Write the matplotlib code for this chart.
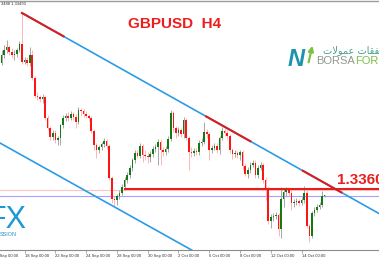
import numpy as np
import matplotlib
matplotlib.use("Agg")
import matplotlib.pyplot as plt

# GBPUSD H4 candles
opens = [1.3612, 1.3628, 1.3638, 1.3644, 1.3634, 1.3628, 1.3630, 1.3638, 1.3650, 1.3614,
         1.3618, 1.3612, 1.3628, 1.3582, 1.3546, 1.3544, 1.3540, 1.3544, 1.3502, 1.3482,
         1.3464, 1.3472, 1.3458, 1.3462, 1.3488, 1.3502, 1.3506, 1.3502, 1.3510, 1.3504,
         1.3494, 1.3518, 1.3516, 1.3510, 1.3506, 1.3502, 1.3476, 1.3448, 1.3438, 1.3444,
         1.3450, 1.3456, 1.3446, 1.3382, 1.3340, 1.3338, 1.3346, 1.3352, 1.3364, 1.3378,
         1.3388, 1.3402, 1.3418, 1.3432, 1.3426, 1.3446, 1.3428, 1.3426, 1.3424, 1.3430,
         1.3440, 1.3444, 1.3454, 1.3438, 1.3434, 1.3440, 1.3460, 1.3512, 1.3482, 1.3472,
         1.3478, 1.3470, 1.3498, 1.3462, 1.3434, 1.3432, 1.3436, 1.3434, 1.3452, 1.3454,
         1.3474, 1.3470, 1.3438, 1.3442, 1.3446, 1.3438, 1.3462, 1.3476, 1.3472, 1.3466,
         1.3438, 1.3430, 1.3432, 1.3428, 1.3434, 1.3406, 1.3390, 1.3398, 1.3408, 1.3412,
         1.3388, 1.3402, 1.3408, 1.3378, 1.3360, 1.3296, 1.3304, 1.3306, 1.3308, 1.3280,
         1.3340, 1.3354, 1.3358, 1.3352, 1.3332, 1.3334, 1.3336, 1.3332, 1.3338, 1.3352,
         1.3286, 1.3266, 1.3312, 1.3318, 1.3324, 1.3328, 1.3346]
highs = [1.3638, 1.3648, 1.3658, 1.3648, 1.3642, 1.3638, 1.3642, 1.3656, 1.3712, 1.3624,
         1.3624, 1.3644, 1.3638, 1.3586, 1.3554, 1.3548, 1.3550, 1.3546, 1.3508, 1.3486,
         1.3478, 1.3478, 1.3466, 1.3490, 1.3508, 1.3512, 1.3514, 1.3516, 1.3514, 1.3510,
         1.3524, 1.3522, 1.3520, 1.3516, 1.3510, 1.3506, 1.3480, 1.3452, 1.3448, 1.3454,
         1.3462, 1.3460, 1.3450, 1.3386, 1.3346, 1.3350, 1.3358, 1.3370, 1.3384, 1.3394,
         1.3408, 1.3422, 1.3438, 1.3438, 1.3452, 1.3450, 1.3438, 1.3434, 1.3436, 1.3446,
         1.3450, 1.3460, 1.3460, 1.3444, 1.3446, 1.3466, 1.3518, 1.3516, 1.3486, 1.3484,
         1.3482, 1.3504, 1.3502, 1.3466, 1.3444, 1.3442, 1.3442, 1.3458, 1.3462, 1.3494,
         1.3480, 1.3474, 1.3448, 1.3452, 1.3452, 1.3466, 1.3484, 1.3482, 1.3478, 1.3470,
         1.3442, 1.3438, 1.3436, 1.3438, 1.3438, 1.3412, 1.3404, 1.3414, 1.3418, 1.3418,
         1.3408, 1.3414, 1.3412, 1.3384, 1.3366, 1.3310, 1.3312, 1.3314, 1.3312, 1.3364,
         1.3362, 1.3364, 1.3362, 1.3358, 1.3340, 1.3342, 1.3340, 1.3344, 1.3366, 1.3358,
         1.3290, 1.3316, 1.3324, 1.3330, 1.3334, 1.3356, 1.3348]
lows = [1.3608, 1.3622, 1.3632, 1.3628, 1.3622, 1.3618, 1.3624, 1.3634, 1.3610, 1.3610,
        1.3606, 1.3606, 1.3578, 1.3542, 1.3538, 1.3534, 1.3532, 1.3498, 1.3478, 1.3458,
        1.3458, 1.3452, 1.3448, 1.3448, 1.3482, 1.3496, 1.3496, 1.3498, 1.3498, 1.3482,
        1.3490, 1.3506, 1.3504, 1.3502, 1.3496, 1.3472, 1.3438, 1.3422, 1.3432, 1.3438,
        1.3444, 1.3440, 1.3378, 1.3332, 1.3326, 1.3328, 1.3340, 1.3348, 1.3358, 1.3372,
        1.3382, 1.3396, 1.3412, 1.3422, 1.3422, 1.3414, 1.3418, 1.3412, 1.3414, 1.3424,
        1.3434, 1.3408, 1.3408, 1.3426, 1.3428, 1.3434, 1.3456, 1.3474, 1.3462, 1.3466,
        1.3464, 1.3462, 1.3458, 1.3398, 1.3424, 1.3426, 1.3428, 1.3428, 1.3446, 1.3450,
        1.3462, 1.3418, 1.3432, 1.3438, 1.3432, 1.3430, 1.3458, 1.3466, 1.3460, 1.3432,
        1.3420, 1.3424, 1.3422, 1.3418, 1.3398, 1.3386, 1.3382, 1.3392, 1.3404, 1.3382,
        1.3382, 1.3398, 1.3372, 1.3338, 1.3290, 1.3282, 1.3296, 1.3300, 1.3266, 1.3262,
        1.3324, 1.3346, 1.3346, 1.3318, 1.3324, 1.3328, 1.3326, 1.3328, 1.3332, 1.3282,
        1.3254, 1.3262, 1.3306, 1.3314, 1.3320, 1.3324, 1.3344]
closes = [1.3628, 1.3638, 1.3644, 1.3634, 1.3628, 1.3630, 1.3638, 1.3650, 1.3614, 1.3618,
          1.3612, 1.3628, 1.3582, 1.3546, 1.3544, 1.3540, 1.3544, 1.3502, 1.3482, 1.3464,
          1.3472, 1.3458, 1.3462, 1.3488, 1.3502, 1.3506, 1.3502, 1.3510, 1.3504, 1.3494,
          1.3518, 1.3516, 1.3510, 1.3506, 1.3502, 1.3476, 1.3448, 1.3438, 1.3444, 1.3450,
          1.3456, 1.3446, 1.3382, 1.3340, 1.3338, 1.3346, 1.3352, 1.3364, 1.3378, 1.3388,
          1.3402, 1.3418, 1.3432, 1.3426, 1.3446, 1.3428, 1.3426, 1.3424, 1.3430, 1.3440,
          1.3444, 1.3454, 1.3438, 1.3434, 1.3440, 1.3460, 1.3512, 1.3482, 1.3472, 1.3478,
          1.3470, 1.3498, 1.3462, 1.3434, 1.3432, 1.3436, 1.3434, 1.3452, 1.3454, 1.3474,
          1.3470, 1.3438, 1.3442, 1.3446, 1.3438, 1.3462, 1.3476, 1.3472, 1.3466, 1.3438,
          1.3430, 1.3432, 1.3428, 1.3434, 1.3406, 1.3390, 1.3398, 1.3408, 1.3412, 1.3388,
          1.3402, 1.3408, 1.3378, 1.3360, 1.3296, 1.3304, 1.3306, 1.3308, 1.3280, 1.3340,
          1.3354, 1.3358, 1.3352, 1.3332, 1.3334, 1.3336, 1.3332, 1.3338, 1.3352, 1.3286,
          1.3266, 1.3312, 1.3318, 1.3324, 1.3328, 1.3346, 1.3346]

# time axis (bar index of each label)
tick_bars = [-3, 9, 21, 33, 45, 57, 69, 81, 93, 105, 117]
tick_labels = ["16 Sep 00:00", "18 Sep 00:00", "22 Sep 00:00", "24 Sep 00:00",
               "28 Sep 00:00", "30 Sep 00:00", "2 Oct 00:00", "6 Oct 00:00",
               "8 Oct 00:00", "12 Oct 00:00", "14 Oct 00:00"]

# trend channel: two anchor points each (bar, price)
upper_line = [(8, 1.3712), (146.8, 1.3312)]
lower_line = [(-0.6, 1.3452), (72.7, 1.3242)]
red_spans = [(8, 24.2), (79.8, 97.0), (117.5, 132.5)]   # red parts on the upper line
level = 1.3360
level_start = 48
bid = 1.3346
pink_level = 1.33585

BLUE = "#2c9be6"
RED = "#e3201e"
XMIN, XMAX = -0.585, 147.17


def line_price(pts, x):
    (x1, y1), (x2, y2) = pts
    return y1 + (y2 - y1) * (np.asarray(x) - x1) / (x2 - x1)


fig = plt.figure(figsize=(3.79, 2.59), dpi=100)
ax = fig.add_axes([0, 9 / 259, 1, 249 / 259])

o = np.array(opens)
h = np.array(highs)
l = np.array(lows)
c = np.array(closes)
x = np.arange(len(c))
up = c >= o

# candles
ax.vlines(x[up], l[up], h[up], color="#9a9a9a", lw=0.6, zorder=2)
ax.vlines(x[~up], l[~up], h[~up], color="#ffaaaa", lw=0.6, zorder=2)
body = np.maximum(np.abs(c - o), 0.00015)
ax.bar(x[up], body[up], bottom=np.minimum(o, c)[up], width=0.62,
       color="#137a13", edgecolor="none", zorder=3)
ax.bar(x[~up], body[~up], bottom=np.minimum(o, c)[~up], width=0.62,
       color="#ff1414", edgecolor="none", zorder=3)

# price lines
ax.axhline(pink_level, color="#ffc4c4", lw=0.8, zorder=1)
ax.axhline(bid, color="#a3a3ff", lw=0.8, zorder=1)
ax.plot([level_start, 160], [level, level], color=RED, lw=1.5, zorder=4)

# channel
ux = np.array([upper_line[0][0], 160])
ax.plot(ux, line_price(upper_line, ux), color=BLUE, lw=1.2, zorder=4)
for a, b in red_spans:
    sx = np.array([a, b])
    ax.plot(sx, line_price(upper_line, sx), color="#d91c1c", lw=1.5, zorder=5)
ax.axline(lower_line[0], lower_line[1], color=BLUE, lw=1.2, zorder=4)

# axes look (MT4 style)
for side in ["left", "right"]:
    ax.spines[side].set_visible(False)
ax.spines["top"].set_color("#9c9c9c")
ax.spines["top"].set_linewidth(1.0)
ax.spines["bottom"].set_color("#8c8c8c")
ax.spines["bottom"].set_linewidth(0.8)
ax.set_yticks([])
visible = [(b, t) for b, t in zip(tick_bars, tick_labels) if b >= XMIN]
ax.set_xticks([b for b, _ in visible])
ax.set_xticklabels([t for _, t in visible], fontsize=3, family="Liberation Sans",
                   color="#333333")
plt.setp(ax.get_xticklabels(), ha="left")
ax.tick_params(axis="x", direction="out", length=2, width=0.5, color="#8c8c8c", pad=0.8)
ax.set_xlim(XMIN, XMAX)
ax.set_ylim(1.3238, 1.3736)
# labels whose tick sits just left of the view are cut by the edge, as in MT4
for b, t in zip(tick_bars, tick_labels):
    if b < XMIN:
        ax.annotate(t, xy=(b, 0), xycoords=ax.get_xaxis_transform(),
                    xytext=(0, -2.8), textcoords="offset points", ha="left", va="top",
                    fontsize=3, family="Liberation Sans", color="#333333",
                    annotation_clip=False)

# texts
fig.text(1 / 379, 1 - 4 / 259, "3488 1.33493", fontsize=3, color="#333333",
         family="Liberation Sans", va="center")
fig.text(175 / 379, 1 - 23.5 / 259, "GBPUSD  H4", fontsize=11, fontweight="bold",
         color="#ee1c1c", family="Liberation Sans", ha="center", va="center")
fig.text(337 / 379, 1 - 180 / 259, "1.3360", fontsize=11, fontweight="bold",
         color="#e8201e", family="Liberation Sans", va="center")

# BorsaForex logo
fig.text(288 / 379, 1 - 66 / 259, "N", fontsize=17, fontweight="bold", style="italic",
         color="#1d93ad", family="Liberation Sans", va="baseline")
ax.annotate("", xy=(313 / 379, 1 - 43 / 259), xytext=(308 / 379, 1 - 65 / 259),
            xycoords="figure fraction", textcoords="figure fraction",
            arrowprops=dict(arrowstyle="-|>,head_width=0.15,head_length=0.3",
                            color="#7cc242", lw=1.6))
fig.text(323 / 379, 1 - 50 / 259, "\uFE95\uFEFB\uFEEE\uFEE4\uFECB \uFE95\uFE8E\uFED8\uFED4\uFEBB",
         fontsize=7, color="#4aa08c", family="DejaVu Sans", va="center")
t1 = fig.text(316 / 379, 1 - 61.5 / 259, "BORSA", fontsize=8, color="#8f9a8f",
              family="Liberation Sans", va="center")
fig.canvas.draw()
bb = t1.get_window_extent(fig.canvas.get_renderer())
fig.text(bb.x1 / fig.bbox.width + 0.002, 1 - 61.5 / 259, "FOREX", fontsize=8,
         color="#7cbf48", family="Liberation Sans", va="center")

# left watermark
fig.text(-12 / 379, 1 - 228 / 259, "FX", fontsize=22, color="#1b98d5",
         family="Liberation Sans", va="baseline")
fig.text(0, 1 - 235 / 259, "SSION", fontsize=4, color="#2f8fc8",
         family="Liberation Sans", va="center")

fig.savefig("out.png", dpi=100)
